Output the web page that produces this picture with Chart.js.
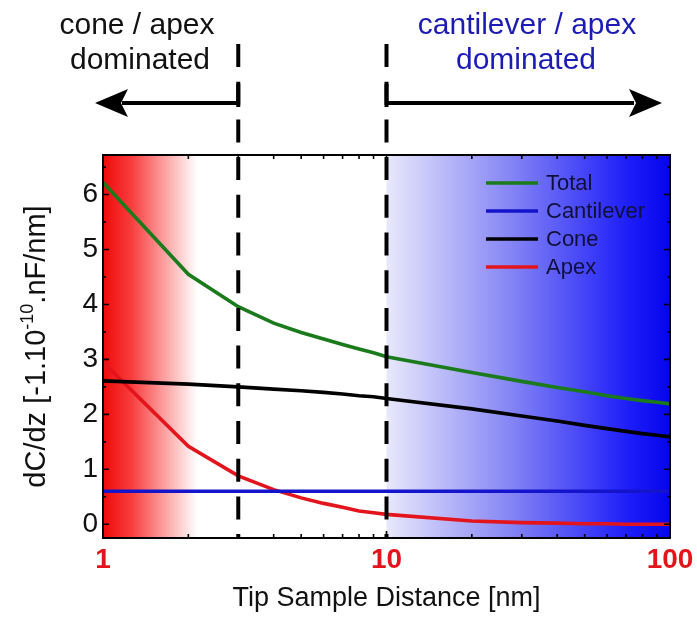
<!DOCTYPE html>
<html>
<head>
<meta charset="utf-8">
<script src="https://cdn.jsdelivr.net/npm/chart.js@4.4.1/dist/chart.umd.min.js"></script>
<style>
  html, body { margin: 0; padding: 0; background: #ffffff; }
  canvas { display: block; }
</style>
</head>
<body>
<canvas id="c" width="697" height="626"></canvas>
<script>
// Tip-sample distance [nm] at which each contribution is evaluated
const distances = [1, 2, 3, 4, 5, 6, 7, 8, 9, 10, 20, 30, 40, 50, 60, 70, 80, 90, 100];

// dC/dz contributions [-1e-10 nF/nm]
const totalValues      = [6.22, 4.55, 3.96, 3.66, 3.49, 3.37, 3.27, 3.19, 3.12, 3.05, 2.76, 2.60, 2.49, 2.41, 2.34, 2.29, 2.25, 2.22, 2.19];
const cantileverValues = [0.60, 0.60, 0.60, 0.60, 0.60, 0.60, 0.60, 0.60, 0.60, 0.60, 0.60, 0.60, 0.60, 0.60, 0.60, 0.60, 0.60, 0.60, 0.60];
const coneValues       = [2.61, 2.55, 2.50, 2.46, 2.43, 2.40, 2.37, 2.34, 2.32, 2.29, 2.10, 1.97, 1.88, 1.80, 1.74, 1.69, 1.65, 1.62, 1.59];
const apexValues       = [2.95, 1.42, 0.88, 0.63, 0.48, 0.38, 0.31, 0.24, 0.21, 0.18, 0.06, 0.03, 0.02, 0.01, 0.01, 0.00, 0.00, 0.00, 0.00];

const seriesNames = ['Total', 'Cantilever', 'Cone', 'Apex'];
const seriesColors = ['#1b7a1b', '#1414cc', '#000000', '#e3141c'];

const xTickValues = [1, 10, 100];
const yTickValues = [0, 1, 2, 3, 4, 5, 6];

// regime boundaries and shaded bands (distance values)
const regimeBounds = [3, 10];
const apexBand = [1, 2.15];
const cantileverBand = [10, 100];

const FONT = '"Liberation Sans", Arial, Helvetica, sans-serif';

function makeSeries(label, values, color) {
  return {
    label: label,
    data: distances.map((d, i) => ({ x: d, y: values[i] })),
    borderColor: color,
    backgroundColor: color,
    borderWidth: 3.6,
    pointRadius: 0,
    tension: 0,
    fill: false
  };
}

const decorations = {
  id: 'decorations',
  beforeDatasetsDraw(chart) {
    const { ctx, chartArea: a, scales: { x } } = chart;
    ctx.save();
    // red band (apex dominated region)
    const r0 = x.getPixelForValue(apexBand[0]);
    const r1 = x.getPixelForValue(apexBand[1]);
    const gr = ctx.createLinearGradient(r0, 0, r1, 0);
    gr.addColorStop(0, 'rgb(240,10,10)');
    gr.addColorStop(0.3, 'rgb(248,60,60)');
    gr.addColorStop(0.65, 'rgb(252,160,160)');
    gr.addColorStop(1, 'rgba(255,255,255,1)');
    ctx.fillStyle = gr;
    ctx.fillRect(r0, a.top, r1 - r0, a.bottom - a.top);
    // blue band (cantilever dominated region)
    const b0 = x.getPixelForValue(cantileverBand[0]);
    const b1 = x.getPixelForValue(cantileverBand[1]);
    const gb = ctx.createLinearGradient(b0, 0, b1, 0);
    gb.addColorStop(0, 'rgb(232,232,252)');
    gb.addColorStop(0.45, 'rgb(130,130,245)');
    gb.addColorStop(0.85, 'rgb(30,30,250)');
    gb.addColorStop(1, 'rgb(5,5,235)');
    ctx.fillStyle = gb;
    ctx.fillRect(b0, a.top, b1 - b0, a.bottom - a.top);
    ctx.restore();
  },
  afterDatasetsDraw(chart) {
    const { ctx, chartArea: a, scales: { x, y } } = chart;
    ctx.save();
    // frame
    ctx.strokeStyle = '#000';
    ctx.lineWidth = 2;
    ctx.strokeRect(a.left, a.top, a.right - a.left, a.bottom - a.top);

    // inward tick marks
    ctx.lineWidth = 1.6;
    ctx.beginPath();
    for (let d = 0; d <= 2; d++) {
      for (let m = 1; m <= 9; m++) {
        const v = m * Math.pow(10, d);
        if (v > 100) break;
        const px = x.getPixelForValue(v);
        const len = (m === 1) ? 7 : 4;
        ctx.moveTo(px, a.bottom); ctx.lineTo(px, a.bottom - len);
        ctx.moveTo(px, a.top); ctx.lineTo(px, a.top + len);
      }
    }
    for (let v = 0; v <= 6.5; v += 0.5) {
      const py = y.getPixelForValue(v);
      const len = Number.isInteger(v) ? 6 : 3;
      ctx.moveTo(a.left, py); ctx.lineTo(a.left + len, py);
      ctx.moveTo(a.right, py); ctx.lineTo(a.right - len, py);
    }
    ctx.stroke();

    // dashed regime boundaries
    ctx.lineWidth = 4;
    ctx.setLineDash([23, 14.7]);
    regimeBounds.forEach(v => {
      const px = x.getPixelForValue(v);
      ctx.beginPath();
      ctx.moveTo(px, 44);
      ctx.lineTo(px, a.bottom);
      ctx.stroke();
    });
    ctx.setLineDash([]);

    // arrows
    const ay = 103;
    const xl = x.getPixelForValue(regimeBounds[0]);
    const xr = x.getPixelForValue(regimeBounds[1]);
    ctx.lineWidth = 4;
    ctx.beginPath();
    ctx.moveTo(xl + 1, ay); ctx.lineTo(122, ay);
    ctx.moveTo(xr - 1, ay); ctx.lineTo(634, ay);
    ctx.moveTo(xl, 84); ctx.lineTo(xl, 107);
    ctx.moveTo(xr, 84); ctx.lineTo(xr, 107);
    ctx.stroke();
    ctx.fillStyle = '#000';
    ctx.beginPath();
    ctx.moveTo(95, ay); ctx.lineTo(128, 89); ctx.lineTo(121, ay); ctx.lineTo(128, 117);
    ctx.closePath(); ctx.fill();
    ctx.beginPath();
    ctx.moveTo(662, ay); ctx.lineTo(629, 89); ctx.lineTo(636, ay); ctx.lineTo(629, 117);
    ctx.closePath(); ctx.fill();

    // regime captions
    ctx.font = '30px ' + FONT;
    ctx.textAlign = 'center';
    ctx.textBaseline = 'alphabetic';
    ctx.fillStyle = '#111111';
    ctx.fillText('cone / apex', 137, 34);
    ctx.fillText('dominated', 140, 69);
    ctx.fillStyle = '#1c1cb4';
    ctx.fillText('cantilever / apex', 527, 34);
    ctx.fillText('dominated', 526, 69);

    // legend inside the plot
    ctx.font = '22px ' + FONT;
    ctx.textAlign = 'left';
    ctx.textBaseline = 'middle';
    chart.data.datasets.forEach((ds, i) => {
      const ly = 183 + i * 28;
      ctx.strokeStyle = ds.borderColor;
      ctx.lineWidth = 3.5;
      ctx.beginPath();
      ctx.moveTo(486, ly); ctx.lineTo(538, ly);
      ctx.stroke();
      ctx.fillStyle = '#10103a';
      ctx.fillText(ds.label, 546, ly + 1);
    });

    // y-axis title with superscript exponent
    const parts = [
      { t: 'dC/dz [-1.10', size: 29, rise: 0 },
      { t: '-10', size: 18, rise: 12 },
      { t: '.nF/nm]', size: 29, rise: 0 }
    ];
    let total = 0;
    parts.forEach(p => { ctx.font = p.size + 'px ' + FONT; p.w = ctx.measureText(p.t).width; total += p.w; });
    ctx.translate(35, (a.top + a.bottom) / 2);
    ctx.rotate(-Math.PI / 2);
    ctx.fillStyle = '#111111';
    ctx.textAlign = 'left';
    ctx.textBaseline = 'alphabetic';
    let cx = -total / 2;
    parts.forEach(p => {
      ctx.font = p.size + 'px ' + FONT;
      ctx.fillText(p.t, cx, 10 - p.rise);
      cx += p.w;
    });
    ctx.restore();
  }
};

new Chart(document.getElementById('c'), {
  type: 'line',
  data: {
    datasets: [
      makeSeries(seriesNames[0], totalValues, seriesColors[0]),
      makeSeries(seriesNames[1], cantileverValues, seriesColors[1]),
      makeSeries(seriesNames[2], coneValues, seriesColors[2]),
      makeSeries(seriesNames[3], apexValues, seriesColors[3])
    ]
  },
  options: {
    responsive: false,
    animation: false,
    devicePixelRatio: 1,
    layout: { padding: { top: 155, right: 27, left: 0, bottom: 0 } },
    plugins: { legend: { display: false }, tooltip: { enabled: false } },
    scales: {
      x: {
        type: 'logarithmic',
        min: 1,
        max: 100,
        afterBuildTicks: s => { s.ticks = xTickValues.map(v => ({ value: v })); },
        afterFit: s => { s.height = 88; },
        grid: { display: false },
        border: { display: false },
        ticks: {
          autoSkip: false,
          maxRotation: 0,
          padding: -3,
          color: '#e3141c',
          font: { family: FONT, size: 28, weight: 'bold' },
          callback: v => String(v)
        },
        title: {
          display: true,
          text: 'Tip Sample Distance [nm]',
          color: '#111111',
          font: { family: FONT, size: 27 },
          padding: { top: 0, bottom: 11 }
        }
      },
      y: {
        type: 'linear',
        min: -0.25,
        max: 6.72,
        afterBuildTicks: s => { s.ticks = yTickValues.map(v => ({ value: v })); },
        afterFit: s => { s.width = 103; },
        grid: { display: false },
        border: { display: false },
        ticks: {
          padding: -3,
          color: '#111111',
          font: { family: FONT, size: 28 }
        }
      }
    }
  },
  plugins: [decorations]
});
</script>
</body>
</html>
